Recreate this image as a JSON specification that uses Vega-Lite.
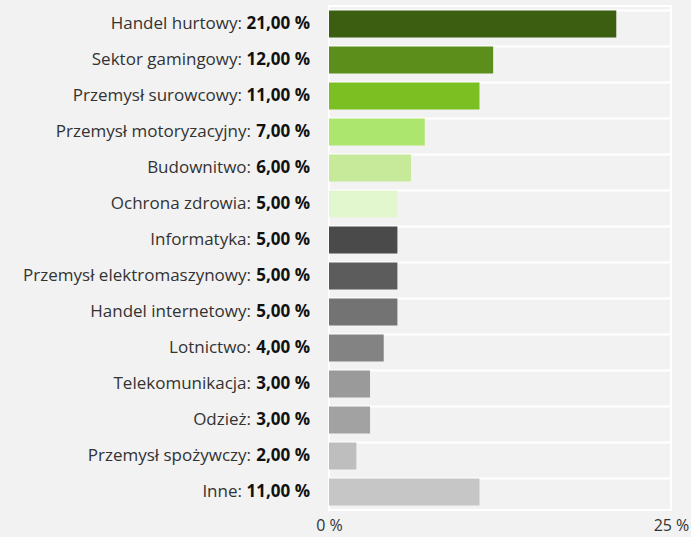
{
  "$schema": "https://vega.github.io/schema/vega-lite/v6.json",
  "width": 342,
  "height": 504,
  "autosize": "none",
  "padding": {"left": 329, "top": 6, "right": 20, "bottom": 27},
  "background": "#f2f2f2",
  "config": {
    "view": {"fill": "#f2f2f2", "stroke": "white", "strokeWidth": 2},
    "font": "Open Sans"
  },
  "data": {
    "values": [
      {"name": "Handel hurtowy", "value": 21, "color": "#3c5e10"},
      {"name": "Sektor gamingowy", "value": 12, "color": "#5b8e1b"},
      {"name": "Przemysł surowcowy", "value": 11, "color": "#7bbf22"},
      {"name": "Przemysł motoryzacyjny", "value": 7, "color": "#ade66e"},
      {"name": "Budownitwo", "value": 6, "color": "#c7ea9a"},
      {"name": "Ochrona zdrowia", "value": 5, "color": "#e3f7cf"},
      {"name": "Informatyka", "value": 5, "color": "#4a4a4a"},
      {"name": "Przemysł elektromaszynowy", "value": 5, "color": "#5c5c5c"},
      {"name": "Handel internetowy", "value": 5, "color": "#737373"},
      {"name": "Lotnictwo", "value": 4, "color": "#838383"},
      {"name": "Telekomunikacja", "value": 3, "color": "#9a9a9a"},
      {"name": "Odzież", "value": 3, "color": "#a2a2a2"},
      {"name": "Przemysł spożywczy", "value": 2, "color": "#bebebe"},
      {"name": "Inne", "value": 11, "color": "#c6c6c6"}
    ]
  },
  "transform": [
    {"calculate": "replace(format(datum.value, '.2f'), '.', ',') + ' %'", "as": "valueText"},
    {"calculate": "datum.name + ':'", "as": "nameText"}
  ],
  "encoding": {
    "y": {
      "field": "name",
      "type": "nominal",
      "sort": null,
      "scale": {"paddingInner": 0.25, "paddingOuter": 0.125},
      "axis": {
        "title": null,
        "labels": false,
        "ticks": false,
        "domain": false,
        "grid": true,
        "gridColor": "white",
        "gridWidth": 2,
        "gridOpacity": 1,
        "bandPosition": 0
      }
    }
  },
  "layer": [
    {
      "mark": {"type": "bar"},
      "encoding": {
        "x": {
          "field": "value",
          "type": "quantitative",
          "scale": {"domain": [0, 25], "nice": false},
          "axis": {
            "title": null,
            "values": [0, 25],
            "labelExpr": "datum.value + ' %'",
            "grid": false,
            "ticks": false,
            "domain": false,
            "labelFontSize": 16,
            "labelColor": "#333333",
            "labelPadding": 7,
            "labelFlush": false
          }
        },
        "color": {"field": "color", "type": "nominal", "scale": null}
      }
    },
    {
      "mark": {"type": "text", "align": "right", "baseline": "middle", "dx": -19, "fontSize": 17, "fontWeight": "bold", "color": "#111111"},
      "encoding": {
        "x": {"datum": 0},
        "text": {"field": "valueText"}
      }
    },
    {
      "transform": [{"filter": "datum.value >= 10"}],
      "mark": {"type": "text", "align": "right", "baseline": "middle", "dx": -87, "fontSize": 17, "color": "#333333"},
      "encoding": {
        "x": {"datum": 0},
        "text": {"field": "nameText"}
      }
    },
    {
      "transform": [{"filter": "datum.value < 10"}],
      "mark": {"type": "text", "align": "right", "baseline": "middle", "dx": -78, "fontSize": 17, "color": "#333333"},
      "encoding": {
        "x": {"datum": 0},
        "text": {"field": "nameText"}
      }
    }
  ]
}
